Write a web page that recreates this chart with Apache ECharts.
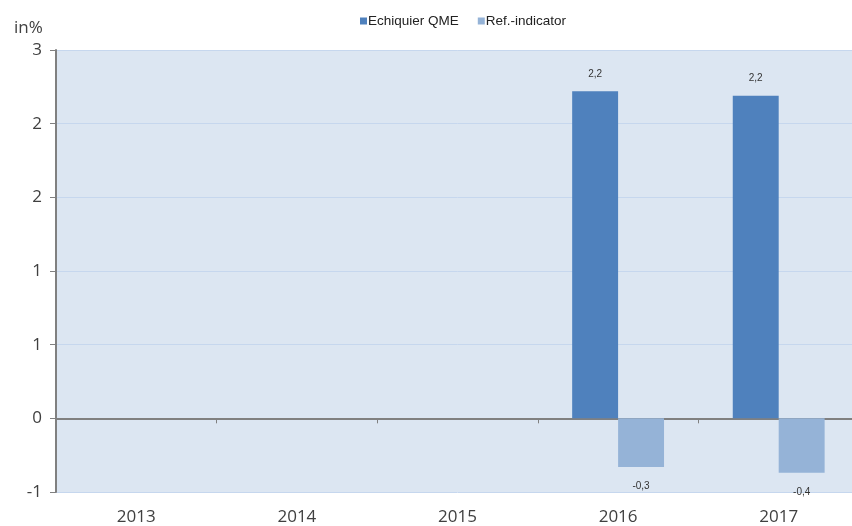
<!DOCTYPE html>
<html>
<head>
<meta charset="utf-8">
<script src="https://cdn.jsdelivr.net/npm/echarts@6/dist/echarts.min.js"></script>
<style>
  html, body { margin: 0; padding: 0; background: #fff; overflow: hidden; }
  #chart { width: 859px; height: 526px; }
</style>
</head>
<body>
<div id="chart"></div>
<script>
var years = ['2013', '2014', '2015', '2016', '2017'];
var qmeValues = [null, null, null, 2.22, 2.19];
var refValues = [null, null, null, -0.33, -0.37];

function fmtLabel(v) {
    return v.toFixed(1).replace('.', ',');
}
function roundAway(v) {
    var s = v < 0 ? -1 : 1;
    return s * Math.round(Math.abs(v));
}
function toItems(arr) {
    return arr.map(function (v) {
        if (v === null) return '-';
        return { value: v, label: { position: v < 0 ? 'bottom' : 'top', distance: v < 0 ? 14 : 12 } };
    });
}

var myChart = echarts.init(document.getElementById('chart'));
var option = {
    animation: false,
    textStyle: { fontFamily: 'Open Sans' },
    legend: {
        top: 9,
        left: 355,
        itemWidth: 7,
        itemHeight: 7,
        itemGap: 19,
        icon: 'rect',
        textStyle: { fontFamily: 'Liberation Sans', fontSize: 13.5, color: '#222', padding: [0, 0, 0, -4] },
        data: ['Echiquier QME', 'Ref.-indicator']
    },
    graphic: [{
        type: 'text',
        left: 14,
        top: 20,
        style: { text: 'in%', font: '17px "Open Sans"', fill: '#404040' }
    }],
    grid: {
        left: 56, right: 0, top: 50, bottom: 34,
        outerBoundsMode: 'none',
        show: true, backgroundColor: '#DCE6F2', borderWidth: 0
    },
    xAxis: [{
        type: 'category',
        data: years,
        axisLine: { onZero: true, lineStyle: { color: '#808080', width: 2 } },
        axisTick: { show: true, length: 5, lineStyle: { color: '#808080' } },
        axisLabel: { show: false }
    }, {
        type: 'category',
        data: years,
        position: 'bottom',
        axisLine: { show: false },
        axisTick: { show: false },
        axisLabel: { margin: 17, fontSize: 17, color: '#404040' }
    }],
    yAxis: {
        type: 'value',
        min: -0.5,
        max: 2.5,
        interval: 0.5,
        axisLine: { show: true, lineStyle: { color: '#808080', width: 2 } },
        axisTick: { show: true, length: 6, lineStyle: { color: '#808080' } },
        axisLabel: {
            fontSize: 17, color: '#404040', margin: 14,
            formatter: function (v) { return String(roundAway(v)); }
        },
        splitLine: { lineStyle: { color: '#C6D7EE', width: 1 } }
    },
    series: [{
        name: 'Echiquier QME',
        type: 'bar',
        data: toItems(qmeValues),
        barWidth: '28.6%',
        barGap: '0%',
        itemStyle: { color: '#4F81BD' },
        label: {
            show: true, fontSize: 10, color: '#333',
            fontFamily: 'Liberation Sans',
            formatter: function (p) { return fmtLabel(p.value); }
        }
    }, {
        name: 'Ref.-indicator',
        type: 'bar',
        data: toItems(refValues),
        barWidth: '28.6%',
        itemStyle: { color: '#95B3D7' },
        label: {
            show: true, fontSize: 10, color: '#333',
            fontFamily: 'Liberation Sans',
            formatter: function (p) { return fmtLabel(p.value); }
        }
    }]
};
myChart.setOption(option);
</script>
</body>
</html>
